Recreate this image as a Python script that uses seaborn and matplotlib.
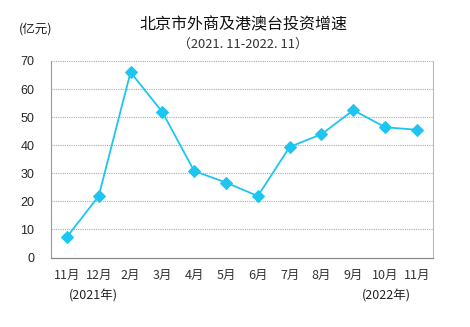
import matplotlib
matplotlib.use("Agg")
import matplotlib.pyplot as plt
import seaborn as sns
import pandas as pd
import numpy as np

months = ["11月", "12月", "2月", "3月", "4月", "5月", "6月", "7月", "8月", "9月", "10月", "11月"]
values = [7.3, 21.9, 66.0, 51.8, 30.8, 26.7, 21.9, 39.4, 43.9, 52.5, 46.4, 45.5]
yticks = [0, 10, 20, 30, 40, 50, 60, 70]
title = "北京市外商及港澳台投资增速"
subtitle = "（2021. 11-2022. 11）"
unit = "(亿元)"
year_labels = ["(2021年)", "(2022年)"]

sns.set_theme(style="white")
plt.rcParams['font.family'] = ['Noto Sans CJK SC', 'DejaVu Sans']

df = pd.DataFrame({"idx": np.arange(len(months)), "value": values})

fig = plt.figure(figsize=(4.7, 3.27), dpi=100)
ax = fig.add_axes([0.1085, 0.2125, 0.8125, 0.601])

line_color = "#1CC6F0"
sns.lineplot(data=df, x="idx", y="value", ax=ax, color=line_color, linewidth=1.3,
             marker="D", markersize=6, markeredgecolor=line_color, markerfacecolor=line_color)

ax.set_xlim(-0.5, len(months) - 0.5)
ax.set_ylim(0, 70)
ax.set_yticks(yticks)
ax.set_yticklabels([str(v) for v in yticks], fontsize=9, family=['Liberation Sans', 'DejaVu Sans'])
ax.set_xticks(np.arange(len(months)))
ax.set_xticklabels(months, fontsize=9, color="#333333")
ax.set_xticks(np.arange(len(months) + 1) - 0.5, minor=True)
ax.tick_params(axis='x', which='major', length=0, pad=8)
ax.tick_params(axis='x', which='minor', length=3, direction='in', color="#888888", width=0.8)
ax.tick_params(axis='y', length=0, pad=12)
ax.set_xlabel("")
ax.set_ylabel("")

for v in yticks[1:]:
    ax.axhline(v, color="#AAAAAA", linestyle=(0, (1, 1)), linewidth=0.8, zorder=0)

ax.spines['left'].set_color("#999999")
ax.spines['left'].set_linewidth(0.8)
ax.spines['bottom'].set_color("#888888")
ax.spines['bottom'].set_linewidth(0.9)
ax.spines['top'].set_visible(False)
ax.spines['right'].set_color("#BBBBBB")
ax.spines['right'].set_linestyle((0, (1, 1)))
ax.spines['right'].set_linewidth(0.8)

fig.text(243 / 470, 1 - 25 / 327, title, ha='center', va='center', fontsize=11.5, color="#111111")
fig.text(243 / 470, 1 - 44 / 327, subtitle, ha='center', va='center', fontsize=9.3, color="#333333")
fig.text(36 / 470, 1 - 29 / 327, unit, ha='center', va='center', fontsize=9, color="#222222")
fig.text(93 / 470, 1 - 296 / 327, year_labels[0], ha='center', va='center', fontsize=9, color="#222222")
fig.text(386 / 470, 1 - 296 / 327, year_labels[1], ha='center', va='center', fontsize=9, color="#222222")

fig.savefig("out.png", dpi=100, facecolor="white")
